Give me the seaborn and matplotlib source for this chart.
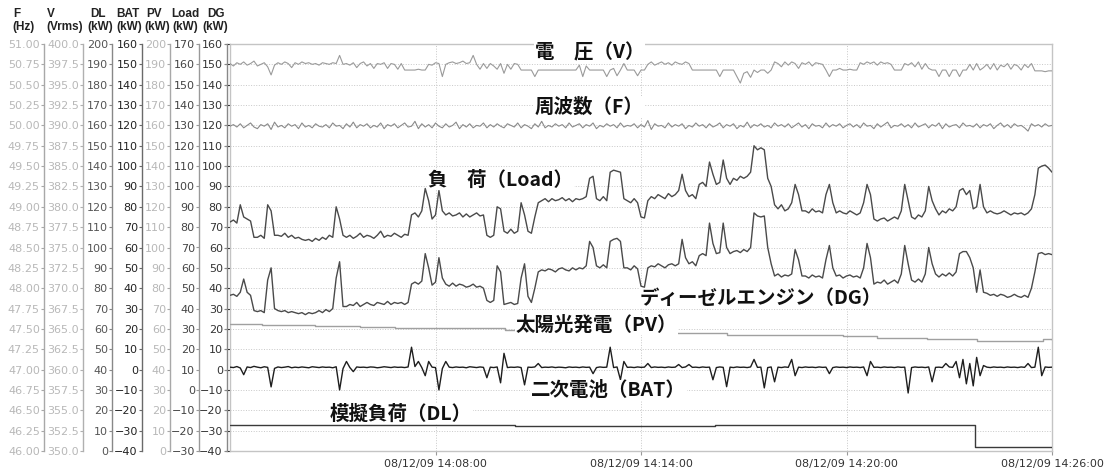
import numpy as np
import pandas as pd
import seaborn as sns
import matplotlib.pyplot as plt
import matplotlib.dates as mdates
from matplotlib.ticker import FormatStrFormatter

sns.set_style('white')
plt.rcParams['font.family'] = ['DejaVu Sans', 'Noto Sans CJK JP']

# samples every 6 s from 14:02:00 to 14:26:00 (241 points)
start = pd.Timestamp('2008-12-09 14:02:00')
times = pd.date_range(start, periods=241, freq='6s')

freq_hz = [
    49.99, 50.01, 49.98, 50.02, 49.97, 50.00, 50.03, 49.98, 49.96, 50.01, 49.99, 50.02, 49.95, 50.04, 49.98, 50.00, 49.97, 50.02, 49.99, 50.01,
    49.96, 50.03, 49.98, 50.00, 49.97, 50.02, 49.99, 49.98, 50.01, 49.97, 50.03, 49.99, 50.00, 49.96, 50.02, 49.98, 50.04, 49.97, 50.01, 49.99,
    50.02, 49.97, 50.00, 49.98, 50.03, 49.96, 50.01, 49.99, 50.02, 49.97, 50.00, 50.03, 49.98, 49.99, 50.05, 49.96, 50.02, 49.98, 50.01, 49.97,
    50.03, 49.99, 49.97, 50.02, 49.98, 50.00, 50.04, 49.96, 50.01, 49.98, 50.02, 49.97, 50.00, 49.99, 50.03, 49.97, 50.01, 49.98, 50.02, 49.99,
    49.97, 50.02, 50.00, 49.98, 50.03, 49.97, 50.01, 49.99, 49.96, 50.02, 49.98, 50.05, 49.97, 50.00, 49.98, 50.02, 49.99, 50.01, 49.97, 50.03,
    49.98, 50.00, 50.02, 49.97, 50.01, 49.99, 50.03, 49.96, 50.00, 49.98, 50.02, 49.99, 50.01, 49.97, 50.03, 49.98, 50.00, 49.99, 50.02, 49.97,
    50.01, 49.98, 50.06, 49.95, 50.02, 49.99, 50.00, 49.97, 50.03, 49.98, 50.01, 49.99, 50.02, 49.96, 50.00, 49.98, 50.03, 49.99, 50.01, 49.97,
    50.02, 49.98, 50.00, 50.03, 49.97, 50.01, 49.99, 50.02, 49.96, 50.00, 49.98, 50.04, 49.97, 50.01, 49.99, 50.02, 49.98, 50.00, 49.97, 50.03,
    49.99, 50.01, 49.98, 50.02, 49.97, 50.00, 50.03, 49.98, 50.01, 49.96, 50.02, 49.99, 50.00, 49.97, 50.03, 49.98, 50.01, 49.99, 50.02, 49.97,
    50.00, 50.02, 49.98, 50.01, 49.97, 50.03, 49.99, 50.00, 49.96, 50.02, 49.98, 50.01, 50.04, 49.97, 50.00, 49.99, 50.02, 49.98, 50.01, 49.97,
    50.03, 49.98, 50.00, 50.02, 49.97, 50.01, 49.99, 50.03, 49.96, 50.02, 49.98, 50.00, 50.01, 49.97, 50.03, 49.99, 50.00, 49.98, 50.02, 49.97,
    50.01, 49.99, 50.02, 49.96, 50.00, 50.03, 49.98, 50.01, 49.97, 50.02, 49.99, 50.00, 49.97, 49.93, 50.02, 49.99, 50.01, 49.98, 50.02, 49.99,
    50.00]

volt_v = [
    397.6, 397.3, 397.7, 397.5, 397.8, 397.4, 397.6, 397.9, 397.3, 397.5, 397.7, 397.2, 396.2, 397.4, 397.7, 397.5, 397.8, 397.6, 397.1, 397.7,
    397.5, 397.8, 397.6, 397.7, 397.5, 397.6, 397.4, 397.7, 397.6, 397.5, 397.7, 397.6, 398.6, 397.5, 397.6, 397.4, 397.7, 397.1, 397.6, 397.8,
    397.3, 397.6, 397.0, 397.6, 397.5, 397.7, 397.0, 397.6, 397.5, 396.9, 397.6, 396.8, 396.8, 396.8, 396.8, 396.9, 396.8, 396.8, 397.5, 397.4,
    397.7, 397.6, 396.0, 397.5, 397.7, 397.8, 397.6, 397.7, 397.9, 397.6, 397.7, 398.6, 397.5, 396.9, 397.6, 397.0, 397.6, 397.3, 396.9, 397.6,
    396.4, 397.5, 396.9, 397.6, 397.5, 396.8, 396.8, 396.8, 396.8, 396.0, 396.8, 396.8, 396.8, 396.8, 396.8, 396.8, 396.8, 396.8, 396.8, 396.8,
    396.8, 396.8, 397.4, 396.0, 397.3, 396.8, 396.8, 396.8, 396.8, 396.8, 396.0, 396.8, 397.0, 396.1, 396.8, 397.6, 396.8, 396.8, 396.8, 396.1,
    396.8, 396.8, 397.5, 397.8, 397.4, 397.6, 397.8, 397.5, 397.7, 397.4, 397.8, 397.6, 397.5, 397.8, 397.6, 396.8, 396.8, 396.8, 396.8, 396.8,
    396.8, 396.8, 396.8, 396.0, 396.8, 396.8, 396.8, 396.8, 396.0, 395.2, 396.4, 396.6, 395.9, 396.8, 396.5, 396.8, 396.8, 396.4, 396.8, 397.8,
    397.6, 397.2, 397.8, 397.4, 397.8, 397.6, 397.0, 397.7, 397.5, 397.8, 397.3, 397.7, 397.6, 397.5, 396.8, 396.0, 396.8, 396.8, 397.0, 396.8,
    396.8, 396.9, 396.8, 396.8, 397.7, 397.5, 397.8, 397.6, 397.8, 397.4, 397.8, 397.6, 397.7, 397.5, 396.8, 396.8, 396.8, 397.6, 397.4, 397.7,
    397.2, 397.8, 396.9, 397.6, 397.0, 396.8, 396.8, 396.0, 396.8, 396.8, 396.0, 396.8, 396.8, 396.0, 396.8, 396.8, 397.5, 396.8, 397.6, 396.8,
    397.1, 397.5, 396.9, 397.6, 396.8, 397.4, 397.2, 397.6, 396.9, 397.5, 397.3, 396.8, 397.5, 397.1, 397.6, 396.7, 396.7, 396.7, 396.6, 396.7,
    396.7]

load_kw = [
    82.5, 83.5, 82, 91, 85, 84, 83, 75, 75, 76, 74.5, 91, 88, 76, 76, 75.5, 77, 75, 76, 74.5,
    75, 74, 73.5, 74, 73, 74.5, 73.5, 75, 74, 76, 75, 90, 84, 76, 75, 76, 74.5, 75.5, 77, 75,
    76, 75.5, 74.5, 76, 78, 75, 76, 75.5, 77, 76, 75, 76.5, 76, 86, 87, 85, 88, 99, 93, 84,
    86, 98, 88, 86, 87, 85.5, 86, 87, 85, 86.5, 85, 86, 87, 85.5, 86, 76, 75, 76, 90, 89,
    78, 77, 79, 77, 78, 92, 86, 78, 77, 85, 92, 93, 94, 92.5, 94, 93, 93.5, 94.5, 93, 94,
    92.5, 94, 93.5, 94, 95, 104, 105, 94, 93, 95, 93, 107, 108, 107.5, 107, 94, 93, 92, 94, 92,
    85, 84.5, 93, 95, 94, 96, 95, 94, 96.5, 95, 96, 98, 106, 98, 95, 96, 94, 101, 102, 100,
    112, 106, 101, 102, 113, 104, 101, 104, 103, 105, 104, 105, 107, 120, 118, 119, 118, 104, 100, 91,
    89, 91, 88, 89, 92, 101, 96, 88, 88, 87, 89, 87.5, 88, 87, 96, 101, 92, 87, 88, 87,
    86.5, 88, 87, 86, 87, 92, 101, 96, 84, 83, 84, 84.5, 83, 84, 85, 84, 88, 101, 93, 85,
    84, 86, 85, 88, 100, 93, 89, 86, 88, 87, 89, 88, 90, 98, 99, 96, 98, 89, 90, 101,
    90, 87, 88, 87, 86.5, 87, 88, 87, 86, 87, 86.5, 87, 86, 87, 89, 96, 109, 110, 110.5, 109,
    107]

dg_kw = [
    36.5, 37, 36, 38, 44.5, 38, 36.5, 29, 28.5, 29, 28, 44, 50, 30, 29, 28.5, 29, 28, 28.5, 28,
    27.5, 28, 27, 28, 27.5, 28, 29, 28, 29.5, 28.5, 30, 45, 53, 31, 31, 32, 31.5, 33, 31, 32,
    33, 32, 31.5, 33, 32.5, 32, 33.5, 32, 33, 32.5, 33, 32, 33, 42, 43, 42, 43.5, 57, 50, 41.5,
    43, 55, 45, 42, 41, 42.5, 41, 42, 41.5, 40.5, 41, 42, 40.5, 41, 40, 34, 33, 34, 51, 48,
    32, 32.5, 33, 32, 32.5, 45, 52, 36, 33, 40, 48, 49, 48.5, 49.5, 49, 48, 49.5, 50, 49, 48.5,
    50, 49, 50, 49.5, 51, 63, 60, 51, 50, 51.5, 50, 63, 64, 64.5, 63, 50, 50, 49, 51, 49.5,
    41, 40.5, 50, 51, 50.5, 52, 51, 50, 51.5, 52, 51, 52, 64, 55, 52, 53, 51, 56, 57, 56,
    72, 62, 57, 57.5, 72, 60, 57, 58, 58.5, 57.5, 59, 58, 60, 77, 75.5, 75, 75.5, 60, 52, 46,
    47, 45.5, 46.5, 46, 47, 59, 54, 46, 46, 45, 46.5, 45.5, 46, 45, 54, 61, 50, 46, 46.5, 45,
    46, 46.5, 45.5, 46, 45, 50, 62, 55, 42, 43, 42.5, 44, 42, 43, 44, 42.5, 47, 61, 52, 44,
    43, 44.5, 43, 47, 60, 52, 47, 45.5, 47, 46, 47.5, 46, 48, 57, 58, 58, 55, 50, 38, 49,
    38, 37.5, 36.5, 37, 36, 37, 36.5, 35.5, 36, 37, 36, 35.5, 36.5, 35.5, 40, 48, 57, 57.5, 56.5, 57,
    56.5]

bat_kw = [
    1.2, 1.0, 1.5, 0.8, -2.5, 1.3, 1.0, 1.6, 1.2, 0.9, 1.4, 1.1, -8.5, 0.6, 1.3, 1.0, 1.2, 1.5, 0.9, 1.2,
    1.0, 1.3, 1.1, 0.9, 1.4, 1.2, 1.0, 1.3, 1.1, 1.2, 0.9, 1.4, -10.0, 0.5, 4.0, 1.0, -1.0, 1.3, 1.1, 1.2,
    1.0, 1.3, 1.2, 0.9, 1.1, 1.4, 1.2, 1.0, 1.3, 1.1, 1.2, 1.0, 1.3, 11.0, 1.5, 4.0, 1.0, -3.0, 4.0, 1.2,
    1.0, -10.0, 0.5, 4.0, 1.2, 1.0, 1.3, 1.1, 1.2, 0.9, 1.4, 1.2, 1.0, 1.3, 1.1, -4.0, 1.2, 1.0, 1.3, -6.5,
    8.0, 1.0, 1.2, 1.1, 1.3, 1.0, -7.5, 1.2, 1.1, 1.3, 3.0, 1.0, 1.2, 1.1, 1.3, 1.0, 1.2, 1.1, 0.9, 1.3,
    1.1, 1.2, 1.0, 1.3, 1.1, 1.2, -2.0, 1.0, 1.3, 1.1, 1.2, 11.0, 1.0, 1.3, -5.0, 4.0, 1.1, 1.2, 1.0, 1.3,
    1.1, 1.2, 3.0, 1.0, 1.3, 1.1, 1.2, 1.0, 1.3, 1.1, 1.2, 2.5, 1.0, 1.3, 2.5, 1.1, 1.2, 1.0, 1.3, 1.1,
    1.2, -5.0, 1.0, 1.3, 1.1, -8.4, 1.2, 1.0, 1.3, 1.1, 1.2, 1.0, 1.3, 5.0, 1.1, 1.2, -9.0, 1.0, 1.3, -6.0,
    1.2, 1.0, 1.3, 1.1, 5.0, -3.0, 1.2, 1.0, 1.3, 1.1, 1.2, 1.0, 1.3, 1.1, 1.2, -2.0, 1.0, 1.3, 1.1, 1.2,
    1.0, 1.3, 1.1, 1.2, 1.0, 1.3, -3.0, 4.0, 1.1, 1.2, 1.0, 1.3, 1.1, 1.2, 1.0, 1.3, 1.1, 1.2, -11.5, 1.0,
    1.3, 1.1, 1.2, 1.0, 1.3, -6.0, 1.1, 1.2, 1.0, 3.0, 1.3, 1.1, 4.0, -4.0, 5.0, -7.0, 3.0, -8.0, 6.0, -3.0,
    2.0, 1.2, 1.0, 1.3, 1.1, 1.2, 1.0, 1.3, 1.1, 1.2, 1.0, 1.3, 1.1, 3.0, 1.0, 1.2, 11.0, -3.0, 1.3, 1.1,
    1.2]

# slow signals as breakpoints (seconds after 14:02:00)
pv_sec = [0, 56, 149, 228, 289, 420, 482, 578, 753, 871, 986, 1074, 1133, 1221, 1309, 1396, 1424, 1440]
pv_kw = [62.4, 61.7, 61.2, 60.9, 60.5, 60.2, 59.5, 59.0, 58.0, 57.0, 57.2, 56.5, 55.5, 55.0, 54.2, 54.2, 55.0, 54.6]
dl_sec = [0, 500, 850, 1305, 1440]
dl_kw = [12.8, 12.4, 12.8, 1.8, 1.8]

xtick_times = ['14:08:00', '14:14:00', '14:20:00', '14:26:00']

df = pd.DataFrame({'time': times, 'F': freq_hz, 'V': volt_v, 'Load': load_kw,
                   'DG': dg_kw, 'BAT': bat_kw})
pv_df = pd.DataFrame({'time': start + pd.to_timedelta(pv_sec, unit='s'), 'PV': pv_kw})
dl_df = pd.DataFrame({'time': start + pd.to_timedelta(dl_sec, unit='s'), 'DL': dl_kw})

fig = plt.figure(figsize=(11.04, 4.70), dpi=100)
ax = fig.add_axes([230 / 1104, 1 - 451 / 470, 822 / 1104, 407 / 470])
x0, x1 = start, start + pd.Timedelta(minutes=24)
ax.set_xlim(x0, x1)
ax.set_ylim(-40, 160)
ax.set_yticks(np.arange(-40, 161, 10))
ax.tick_params(axis='y', left=False, labelleft=False)
ax.set_xticks([pd.Timestamp('2008-12-09 ' + s) for s in xtick_times])
ax.xaxis.set_major_formatter(mdates.DateFormatter('%y/%m/%d %H:%M:%S'))
ax.tick_params(axis='x', bottom=True, length=3, color='#999999', labelsize=8,
               labelcolor='#333333', pad=3)
ax.grid(True, ls=':', color='#c8c8c8', lw=0.7)
for sp in ax.spines.values():
    sp.set_color('#c4c4c4')
    sp.set_linewidth(1.0)

# one y axis per signal: (column, data, ylim, step, offset px, label colour, spine colour, line colour, lw, fmt)
specs = [
    ('DG', df, (-40, 160), 10, 3, '#333333', '#888888', '#4a4a4a', 1.0, None),
    ('Load', df, (-30, 170), 10, 31, '#444444', '#999999', '#4a4a4a', 1.0, None),
    ('PV', pv_df, (0, 200), 10, 60, '#b8b8b8', '#a8a8a8', '#a0a0a0', 1.0, None),
    ('BAT', df, (-40, 160), 10, 88, '#222222', '#6a6a6a', '#1e1e1e', 1.0, None),
    ('DL', dl_df, (0, 200), 10, 118, '#555555', '#888888', '#3a3a3a', 1.0, None),
    ('V', df, (350, 400), 2.5, 147, '#b8b8b8', '#b0b0b0', '#9a9a9a', 0.8, '%.1f'),
    ('F', df, (46, 51), 0.25, 186, '#b8b8b8', '#a8a8a8', '#8a8a8a', 0.8, '%.2f'),
]

for col, data, (lo, hi), step, off, lab_c, sp_c, line_c, lw, fmt in specs:
    tw = ax.twinx()
    for side in ['top', 'bottom', 'right']:
        tw.spines[side].set_visible(False)
    tw.spines['left'].set_visible(True)
    tw.spines['left'].set_position(('outward', off * 0.72))
    tw.spines['left'].set_color(sp_c)
    tw.spines['left'].set_linewidth(1.0)
    tw.yaxis.set_ticks_position('left')
    tw.yaxis.set_label_position('left')
    drawstyle = 'steps-post' if col in ('PV', 'DL') else 'default'
    sns.lineplot(data=data, x='time', y=col, ax=tw, color=line_c, lw=lw,
                 estimator=None, sort=False, drawstyle=drawstyle)
    tw.set_ylim(lo, hi)
    tw.set_yticks(np.arange(lo, hi + step / 2, step))
    if fmt:
        tw.yaxis.set_major_formatter(FormatStrFormatter(fmt))
    tw.tick_params(axis='y', length=2, width=0.8, color=sp_c, labelsize=8,
                   labelcolor=lab_c, pad=1)
    tw.set_xlabel('')
    tw.set_ylabel('')

ax.set_xlim(x0, x1)

# column headers over the axes
headers = [('F', '(Hz)', 13, 12), ('V', '(Vrms)', 47, 46), ('DL', '(kW)', 90, 87),
           ('BAT', '(kW)', 116, 116), ('PV', '(kW)', 146, 144), ('Load', '(kW)', 171, 172),
           ('DG', '(kW)', 207, 202)]
for top, unit, xa, xb in headers:
    fig.text(xa / 1104, 1 - 14 / 470, top, ha='left', va='center', fontsize=8.5,
             fontweight='bold', family=['Liberation Sans'], color='#222222')
    fig.text(xb / 1104, 1 - 27 / 470, unit, ha='left', va='center', fontsize=8.5,
             fontweight='bold', family=['Liberation Sans'], color='#222222')

# signal names written inside the chart
names = [('電\u3000圧（V）', 535, 53), ('周波数（F）', 535, 107), ('負\u3000荷（Load）', 428, 180),
         ('ディーゼルエンジン（DG）', 640, 298), ('太陽光発電（PV）', 516, 325),
         ('二次電池（BAT）', 531, 390), ('模擬負荷（DL）', 330, 414)]
for txt, xp, yp in names:
    fig.text(xp / 1104, 1 - yp / 470, txt, ha='left', va='center', fontsize=14,
             fontweight='bold', family=['Noto Sans CJK JP'], color='#111111',
             bbox=dict(fc='white', ec='none', pad=0.5))

fig.savefig('out.png', dpi=100)
